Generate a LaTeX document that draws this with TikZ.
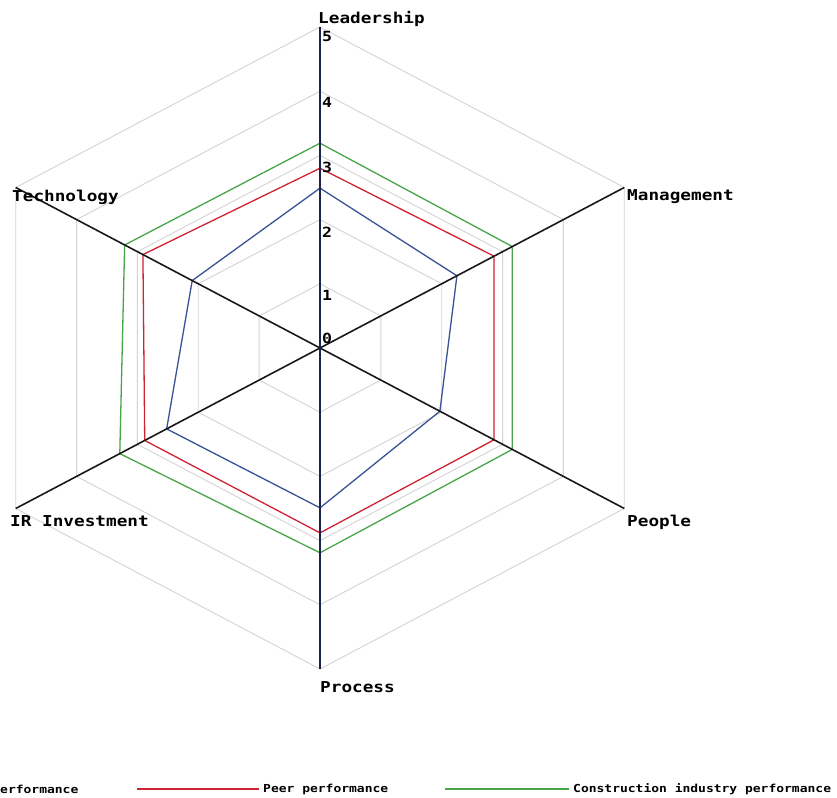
\documentclass[tikz,border=0pt]{standalone}
\usepackage{fontspec}
\newfontfamily\axfont[FakeStretch=1.18]{DejaVu Sans Mono}
\definecolor{compblue}{RGB}{58,82,150}
\definecolor{peerred}{RGB}{205,35,50}
\definecolor{indgreen}{RGB}{72,165,72}
\definecolor{axisnavy}{RGB}{28,36,78}
\definecolor{gridgray}{RGB}{212,212,212}
\begin{document}
\begin{tikzpicture}[x=1pt,y=1pt,
  gridline/.style={draw=gridgray,line width=0.9pt},
  seriesA/.style={draw=compblue,line width=1.3pt,line join=round},
  seriesB/.style={draw=peerred,line width=1.3pt,line join=round},
  seriesC/.style={draw=indgreen,line width=1.3pt,line join=round},
  mainaxis/.style={draw=axisnavy,line width=1.7pt},
  diagaxis/.style={draw=black!90,line width=1.6pt},
  axlabel/.style={font=\axfont\bfseries\fontsize{15}{15}\selectfont,inner sep=0pt,anchor=base west},
  tick/.style={font=\axfont\bfseries\fontsize{14}{14}\selectfont,inner sep=0pt,anchor=west},
  legtext/.style={font=\axfont\bfseries\fontsize{11}{11}\selectfont,inner sep=0pt,anchor=west},
  legline/.style={line width=1.4pt,shorten >=4pt}]
\useasboundingbox (0,0) rectangle (837,797);
\fill[white] (0,0) rectangle (837,797);

% radar frame: centre of the chart and unit lengths along the axes
\begin{scope}[shift={(320,449)},x=70.27pt,y=64.2pt]
  % axis end points
  \coordinate (lead) at (90:5);
  \coordinate (mgmt) at (30:5);
  \coordinate (peop) at (-30:5);
  \coordinate (proc) at (-90:5);
  \coordinate (irin) at (210:5);
  \coordinate (tech) at (150:5);
  \coordinate (origin) at (0,0);

  % grid hexagons
  \foreach \r in {1,...,5}
    \draw[gridline] (90:\r) -- (30:\r) -- (-30:\r) -- (-90:\r) -- (210:\r) -- (150:\r) -- cycle;

  % company performance
  \draw[seriesA] (90:2.49) -- (30:2.25) -- (-30:1.97) -- (-90:2.49) -- (210:2.52) -- (150:2.10) -- cycle;
  % peer performance
  \draw[seriesB] (90:2.80) -- (30:2.86) -- (-30:2.86) -- (-90:2.88) -- (210:2.88) -- (150:2.91) -- cycle;
  % construction industry performance
  \draw[seriesC] (90:3.19) -- (30:3.16) -- (-30:3.16) -- (-90:3.19) -- (210:3.29) -- (150:3.21) -- cycle;

  % axes
  \draw[diagaxis] (tech) -- (peop);
  \draw[diagaxis] (irin) -- (mgmt);
  \draw[mainaxis] (lead) -- (proc);
\end{scope}

% scale values on the vertical axis
\node[tick] (t5) at (322,760) {5};
\node[tick] (t4) at (322,695) {4};
\node[tick] (t3) at (322,630) {3};
\node[tick] (t2) at (322,565) {2};
\node[tick] (t1) at (322,502) {1};
\node[tick] (t0) at (322,459) {0};

% axis names
\node[axlabel] (Llead) at (318,773) {Leadership};
\node[axlabel] (Lmgmt) at (627,596) {Management};
\node[axlabel] (Lpeop) at (627,270) {People};
\node[axlabel] (Lproc) at (320,104) {Process};
\node[axlabel] (Lirin) at (10,270) {IR Investment};
\node[axlabel] (Ltech) at (12,595) {Technology};

% legend
\node[legtext] (legA) at (0,8) {erformance};
\coordinate (legBs) at (137,8);
\node[legtext] (legB) at (263,8) {Peer performance};
\draw[legline,peerred] (legBs) -- (legB.west);
\coordinate (legCs) at (445,8);
\node[legtext] (legC) at (573,8) {Construction industry performance};
\draw[legline,indgreen] (legCs) -- (legC.west);
\end{tikzpicture}
\end{document}
